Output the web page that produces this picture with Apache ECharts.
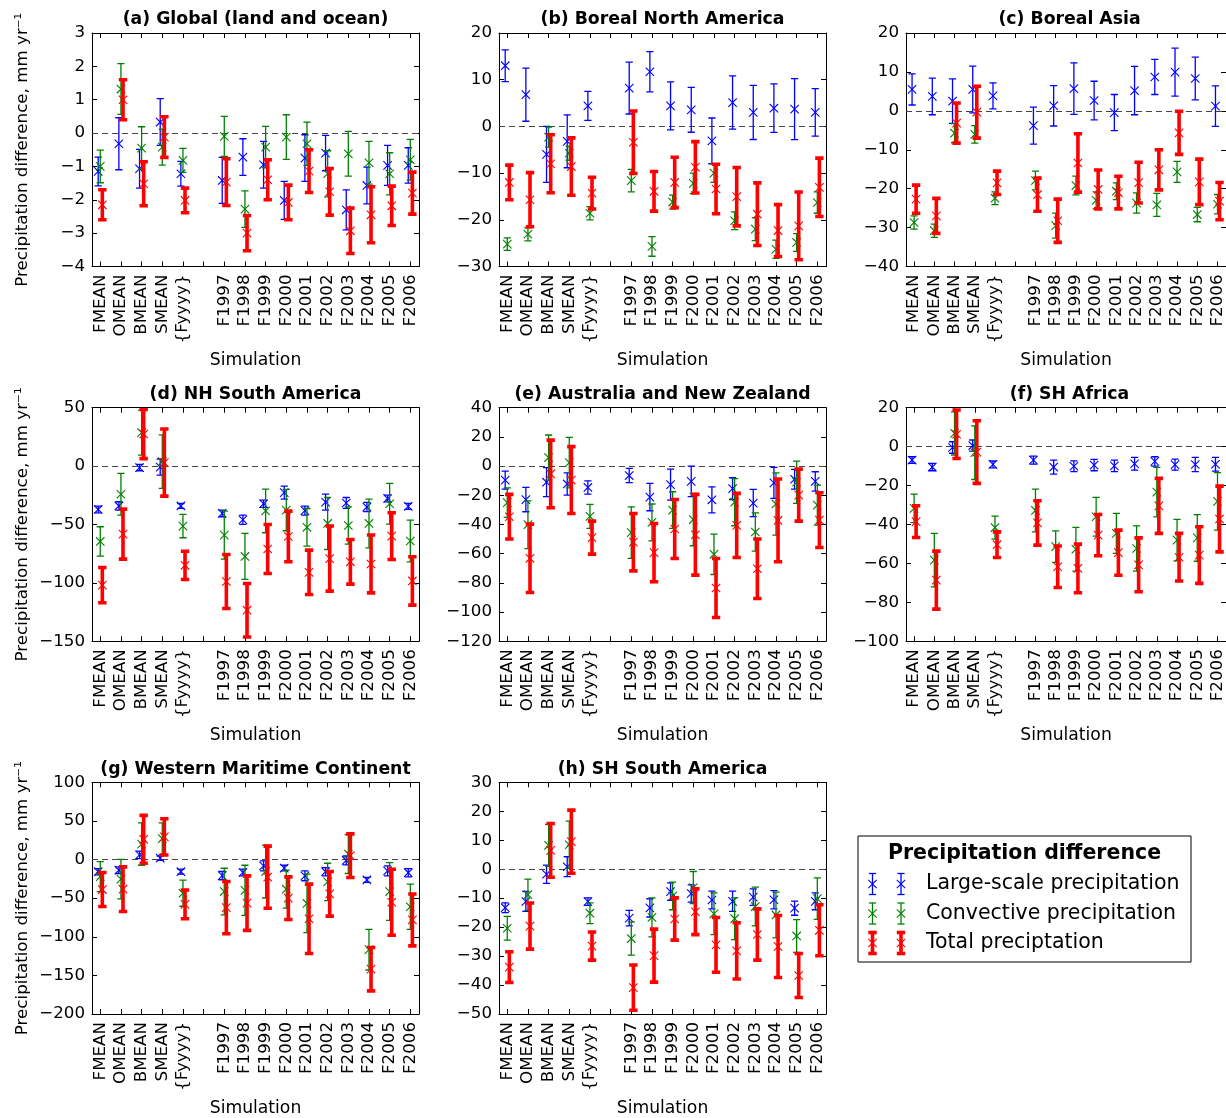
<!DOCTYPE html>
<html>
<head>
<meta charset="utf-8">
<script src="https://cdn.jsdelivr.net/npm/echarts@6/dist/echarts.min.js"></script>
<style>
html,body{margin:0;padding:0;background:#fff;}
#chart{width:1226px;height:1118px;}
</style>
</head>
<body>
<div id="chart"></div>
<script>
// ---------------- DATA ----------------
const categories = ['FMEAN','OMEAN','BMEAN','SMEAN','{Fyyyy}','F1997','F1998','F1999','F2000','F2001','F2002','F2003','F2004','F2005','F2006'];
const seriesNames = ['Large-scale precipitation','Convective precipitation','Total preciptation'];
const legendTitle = 'Precipitation difference';
const titles = ['(a) Global (land and ocean)','(b) Boreal North America','(c) Boreal Asia','(d) NH South America','(e) Australia and New Zealand','(f) SH Africa','(g) Western Maritime Continent','(h) SH South America'];
const yMins = [-4, -30, -40, -150, -120, -100, -200, -50];
const yMaxs = [3, 20, 20, 50, 40, 20, 100, 30];
const ySteps = [1, 10, 10, 50, 20, 20, 50, 10];

// (a)
const aLs = [-1.15,-0.32,-1.07,0.33,-1.22,-1.42,-0.72,-0.95,-2.02,-0.75,-0.6,-2.3,-1.57,-0.97,-0.97];
const aLsErr = [0.43,0.78,0.58,0.7,0.37,0.69,0.55,0.7,0.57,0.7,0.53,0.6,0.55,0.6,0.53];
const aCv = [-1.0,1.32,-0.45,-0.42,-0.82,-0.1,-2.28,-0.42,-0.12,-0.32,-1.22,-0.62,-0.89,-1.22,-0.8];
const aCvErr = [0.49,0.76,0.64,0.54,0.36,0.6,0.55,0.62,0.67,0.65,0.69,0.67,0.64,0.63,0.61];
const aTot = [-2.15,1.0,-1.52,-0.12,-2.02,-1.47,-3.0,-1.4,-2.08,-1.14,-1.76,-2.93,-2.45,-2.18,-1.8];
const aTotErr = [0.45,0.6,0.66,0.61,0.37,0.7,0.53,0.6,0.52,0.64,0.7,0.68,0.84,0.59,0.63];
// (b)
const bLs = [13.0,6.8,-6.0,-3.2,4.4,8.2,11.7,4.4,3.55,-3.1,5.1,3.0,3.9,3.7,3.0];
const bLsErr = [3.4,5.7,6.0,5.65,3.1,5.55,4.3,5.15,4.8,4.9,5.7,5.8,5.2,6.55,5.1];
const bCv = [-25.2,-23.1,-2.3,-5.75,-18.6,-11.6,-25.7,-16.2,-12.2,-10.0,-20.2,-22.0,-26.3,-24.85,-16.3];
const bCvErr = [1.35,1.4,2.15,1.5,1.4,2.4,2.1,1.5,2.2,2.0,1.9,2.45,1.95,1.9,2.3];
const bTot = [-12.0,-15.7,-8.0,-8.6,-14.3,-3.4,-13.9,-12.0,-8.75,-13.4,-15.05,-18.8,-22.3,-21.3,-13.05];
const bTotErr = [3.7,5.8,6.2,6.15,3.4,6.7,4.25,5.4,5.5,5.3,6.25,6.7,5.55,7.25,6.25];
// (c)
const cLs = [5.5,3.7,2.5,5.5,3.85,-3.8,1.3,5.7,2.65,-0.45,5.2,8.7,9.95,8.3,1.2];
const cLsErr = [4.0,4.7,5.7,6.0,3.35,4.75,5.2,6.6,4.95,4.65,6.2,4.5,6.15,5.5,5.2];
const cCv = [-28.7,-30.8,-5.75,-6.05,-22.45,-17.9,-29.5,-19.2,-23.0,-20.65,-23.7,-24.15,-15.7,-26.65,-24.0];
const cCvErr = [1.7,1.7,2.45,2.25,1.65,2.4,3.2,2.4,2.2,2.15,2.6,2.95,2.7,1.85,2.5];
const cTot = [-22.7,-27.0,-3.15,-0.35,-18.5,-21.55,-28.25,-13.4,-20.2,-21.0,-18.45,-15.15,-5.65,-18.25,-23.2];
const cTotErr = [3.6,4.5,5.15,6.65,3.0,4.25,5.55,7.5,5.0,4.2,5.25,5.15,5.55,5.85,4.8];
// (d)
const dLs = [-37.15,-34.15,-1.3,-0.85,-34.15,-40.55,-46,-32.25,-22.7,-38.15,-30.85,-31.6,-35.1,-27.75,-34.55];
const dLsErr = [2.9,3.6,2.7,6.9,2.1,2.85,4,3.15,5.6,3.85,6.85,4.7,4,2.85,2.6];
const dCv = [-64.55,-24.15,28.7,3.75,-51.4,-59.15,-77.4,-38.4,-37.7,-52.45,-49.15,-50.9,-49.15,-32.3,-64.15];
const dCvErr = [12.6,17.9,19.3,22.9,10,20.55,19.7,18.7,17.7,16.1,22.3,16,20.85,17.4,17.85];
const dTot = [-102,-58.3,27.45,3.0,-85,-98.85,-123.45,-71,-60.3,-91,-79.25,-82,-83.85,-60,-98.4];
const dTotErr = [15.1,21.4,21.1,28.7,12.1,23.1,22.9,21,21.7,19,27.9,19.1,24.75,20,20.7];
// (e)
const eLs = [-9.6,-22.95,-11.05,-12.25,-14.65,-6.5,-21.25,-12.7,-10.5,-23.1,-15.45,-25.35,-11.55,-9.05,-10.5];
const eLsErr = [6.2,8.35,9.95,7.65,4.55,4.9,9.35,10.6,10.5,8.9,7.45,9.35,10.65,6.75,6.6];
const eCv = [-25.05,-40.15,5.85,2.4,-34.5,-45.6,-38.6,-30.15,-36.65,-60.45,-24.75,-45.15,-25.95,-11.1,-26.75];
const eCvErr = [10.15,16.35,15.45,17.3,8.2,17.7,12.6,12.55,17.95,13.85,16.15,13.15,21.35,14.5,13.75];
const eTot = [-34.7,-63.2,-5.4,-9.6,-49,-52.15,-59.3,-43.1,-47.05,-83.55,-40.65,-70.35,-37.25,-19.9,-37.05];
const eTotErr = [15.3,23.4,23.2,22.9,11.3,19.65,20,20.2,27.65,20.25,21.95,20.35,28.35,17.8,18.75];
// (f)
const fLs = [-6.9,-10.5,-0.45,0.55,-9.15,-6.95,-10.5,-10.1,-9.5,-9.9,-8.8,-7.6,-9.25,-9.2,-9.05];
const fLsErr = [1.7,1.9,2.95,2.85,1.75,2.05,3.6,2.8,2.9,3.0,3.3,2.4,2.85,3.7,3.55];
const fCv = [-31.75,-58.35,6.8,-3.1,-41.6,-32.8,-51.4,-52.75,-36.05,-44.6,-52.35,-23.4,-48.05,-46.9,-28.15];
const fCvErr = [7.35,13.75,11.1,13.8,5.9,11,8.1,11.25,9.95,10.3,11.65,12.7,10.65,12,14.75];
const fTot = [-38.55,-68.6,6.35,-2.8,-50.4,-39.2,-61.75,-62.6,-45.5,-54.5,-60.75,-30.45,-56.85,-55.75,-37.2];
const fTotErr = [8.15,14.9,12.45,16.1,6.6,11.4,10.65,12.5,10.6,11.6,13.85,14.15,12.25,14.55,16.9];
// (g)
const gLs = [-15.75,-13.8,6.1,1.8,-15.75,-20.85,-16.8,-8.2,-11.05,-21.1,-15.75,-1.2,-26.45,-14.7,-17.05];
const gLsErr = [4,4.3,4.9,2.8,3.25,5.35,4.3,6.5,3.65,6.4,5.35,5.8,3.25,6.4,5.35];
const gCv = [-22.15,-25.35,20,27.05,-43.6,-41.45,-39.9,-15.55,-38.4,-56.85,-29,7.15,-116.7,-41.45,-61.1];
const gCvErr = [19.5,25.6,27.4,20.35,16.9,30.15,32.5,34.25,24.6,37.85,24.2,25.25,26.3,37.45,29.3];
const gTot = [-38.85,-38.4,26.2,29.4,-58.1,-62.2,-56.4,-22.8,-50,-76.7,-44.4,5,-141.95,-55.3,-78.2];
const gTotErr = [22,28.9,31,23.5,18.6,33.8,35.3,40.2,27.6,44.9,28.9,28.2,28.05,42.8,33.6];
// (h)
const hLs = [-13.3,-11.15,-1.75,0.85,-11.2,-16.9,-13.35,-7.75,-8.4,-10.65,-11.1,-9.65,-10.55,-13.45,-11.1];
const hLsErr = [1.7,3.45,3.15,3.45,1.3,2.7,3.15,3.05,3.0,3.05,3.5,2.85,3.15,2.45,2.9];
const hCv = [-20.4,-8.8,8.25,8.45,-15.2,-23.95,-16.65,-9.25,-6.35,-15.4,-17.1,-12.9,-15.8,-23.05,-10.15];
const hCvErr = [4.1,5.4,7.25,8.15,3.6,5.75,6.75,4.75,5.55,7.2,7.2,6.7,7.9,5.65,7.15];
const hTot = [-33.8,-19.65,6.5,9.5,-26.55,-40.9,-29.85,-17.2,-14.7,-26.15,-28.2,-22.55,-26.7,-36.7,-21.1];
const hTotErr = [5.3,7.95,9.3,10.9,4.85,7.8,9.15,7.3,7.9,9.45,9.7,8.85,10.7,7.6,8.8];

const panelData = [
  [aLs,aLsErr,aCv,aCvErr,aTot,aTotErr],
  [bLs,bLsErr,bCv,bCvErr,bTot,bTotErr],
  [cLs,cLsErr,cCv,cCvErr,cTot,cTotErr],
  [dLs,dLsErr,dCv,dCvErr,dTot,dTotErr],
  [eLs,eLsErr,eCv,eCvErr,eTot,eTotErr],
  [fLs,fLsErr,fCv,fCvErr,fTot,fTotErr],
  [gLs,gLsErr,gCv,gCvErr,gTot,gTotErr],
  [hLs,hLsErr,hCv,hCvErr,hTot,hTotErr]
];

// ---------------- LAYOUT / STYLE ----------------
const FONT = 'DejaVu Sans';
const FS = 16.7;
const colors = ['#0000ff', '#008000', '#ff0000'];
const offsets = [-0.1, 0, 0.1];
const labelPos = categories.map((c, i) => i < 5 ? i : i + 1);
const tickPos = [];
for (let i = 0; i <= 15; i++) tickPos.push(i);
const colLeft = [92, 499, 906];
const rowTop = [33, 407.7, 782.3];
const GW = 327, GH = 233.5;
const XMIN = -0.4, XMAX = 15.42;

function fmtNum(v) {
  return v < 0 ? '\u2212' + Math.abs(v) : String(v);
}

function errRender(color, thick) {
  return function (params, api) {
    const x = api.value(0), v = api.value(1), e = api.value(2);
    const c = api.coord([x, v]);
    const t = api.coord([x, v + e]);
    const b = api.coord([x, v - e]);
    const lw = thick ? 3.6 : 1.3;
    const cw = thick ? 4.2 : 3.6;
    const ms = 4.2;
    const st = { stroke: color, lineWidth: lw, lineCap: 'butt' };
    const ms_st = { stroke: color, lineWidth: 1.1 };
    return {
      type: 'group',
      children: [
        { type: 'line', shape: { x1: c[0], y1: t[1], x2: c[0], y2: b[1] }, style: st },
        { type: 'line', shape: { x1: c[0] - cw, y1: t[1], x2: c[0] + cw, y2: t[1] }, style: st },
        { type: 'line', shape: { x1: c[0] - cw, y1: b[1], x2: c[0] + cw, y2: b[1] }, style: st },
        { type: 'line', shape: { x1: c[0] - ms, y1: c[1] - ms, x2: c[0] + ms, y2: c[1] + ms }, style: ms_st },
        { type: 'line', shape: { x1: c[0] - ms, y1: c[1] + ms, x2: c[0] + ms, y2: c[1] - ms }, style: ms_st }
      ]
    };
  };
}

const grids = [], xAxes = [], yAxes = [], series = [], graphics = [];

panelData.forEach((pd, p) => {
  const col = p % 3, row = Math.floor(p / 3);
  const left = colLeft[col], top = rowTop[row];
  grids.push({ left: left, top: top, width: GW, height: GH, containLabel: false });
  const axLine = { show: true, onZero: false, lineStyle: { color: '#000', width: 1 } };
  xAxes.push({
    gridIndex: p, type: 'value', min: XMIN, max: XMAX, position: 'bottom',
    axisLine: axLine,
    axisTick: { show: true, inside: true, length: 5, customValues: tickPos, lineStyle: { color: '#000' } },
    axisLabel: {
      show: true, customValues: labelPos, rotate: 90, margin: 8, color: '#000',
      fontFamily: FONT, fontSize: FS,
      formatter: (v) => { const k = labelPos.indexOf(Math.round(v)); return k >= 0 ? categories[k] : ''; }
    },
    splitLine: { show: false },
    name: 'Simulation', nameLocation: 'middle', nameGap: 86,
    nameTextStyle: { fontFamily: FONT, fontSize: 17.2, color: '#000' }
  });
  xAxes.push({
    gridIndex: p, type: 'value', min: XMIN, max: XMAX, position: 'top',
    axisLine: axLine,
    axisTick: { show: true, inside: true, length: 5, customValues: tickPos, lineStyle: { color: '#000' } },
    axisLabel: { show: false }, splitLine: { show: false }
  });
  const yl = {
    gridIndex: p, type: 'value', min: yMins[p], max: yMaxs[p], interval: ySteps[p], position: 'left',
    axisLine: axLine,
    axisTick: { show: true, inside: true, length: 5, lineStyle: { color: '#000' } },
    axisLabel: { show: true, margin: 7, color: '#000', fontFamily: FONT, fontSize: FS, formatter: fmtNum },
    splitLine: { show: false }
  };
  if (col === 0) {
    yl.name = 'Precipitation difference, mm yr\u207B\u00B9';
    yl.nameLocation = 'middle';
    yl.nameGap = 61;
    yl.nameTextStyle = { fontFamily: FONT, fontSize: FS, color: '#000' };
  }
  yAxes.push(yl);
  yAxes.push({
    gridIndex: p, type: 'value', min: yMins[p], max: yMaxs[p], interval: ySteps[p], position: 'right',
    axisLine: axLine,
    axisTick: { show: true, inside: true, length: 5, lineStyle: { color: '#000' } },
    axisLabel: { show: false }, splitLine: { show: false }
  });

  for (let s = 0; s < 3; s++) {
    const vals = pd[s * 2], errs = pd[s * 2 + 1];
    const ser = {
      type: 'custom', name: seriesNames[s],
      xAxisIndex: p * 2, yAxisIndex: p * 2,
      data: vals.map((v, i) => [labelPos[i] + offsets[s], v, errs[i]]),
      encode: { x: 0, y: 1 },
      renderItem: errRender(colors[s], s === 2),
      clip: true, silent: true, z: 3 + s
    };
    if (s === 0) {
      ser.markLine = {
        silent: true, symbol: 'none', label: { show: false },
        lineStyle: { type: [6, 4], color: '#444', width: 1 },
        data: [{ yAxis: 0 }], z: 2
      };
    }
    series.push(ser);
  }

  graphics.push({
    type: 'text', x: left + GW / 2, y: top - 13,
    style: { text: titles[p], align: 'center', verticalAlign: 'middle', fontFamily: FONT, fontSize: 17.3, fontWeight: 'bold', fill: '#000' }
  });
});

// legend (graphic)
const LX = 858, LY = 836, LW = 333, LH = 126;
graphics.push({ type: 'rect', shape: { x: LX, y: LY, width: LW, height: LH }, style: { fill: '#fff', stroke: '#000', lineWidth: 1 } });
graphics.push({
  type: 'text', x: LX + LW / 2, y: LY + 18,
  style: { text: legendTitle, align: 'center', verticalAlign: 'middle', fontFamily: FONT, fontSize: 20.5, fontWeight: 'bold', fill: '#000' }
});
seriesNames.forEach((nm, k) => {
  const cy = LY + 48 + k * 29.5;
  const thick = k === 2;
  const lw = thick ? 3.6 : 1.3, cw = thick ? 4.2 : 3.6, ms = 4.2;
  [LX + 14.5, LX + 43].forEach((cx) => {
    const st = { stroke: colors[k], lineWidth: lw };
    graphics.push({ type: 'line', shape: { x1: cx, y1: cy - 10.5, x2: cx, y2: cy + 10.5 }, style: st });
    graphics.push({ type: 'line', shape: { x1: cx - cw, y1: cy - 10.5, x2: cx + cw, y2: cy - 10.5 }, style: st });
    graphics.push({ type: 'line', shape: { x1: cx - cw, y1: cy + 10.5, x2: cx + cw, y2: cy + 10.5 }, style: st });
    graphics.push({ type: 'line', shape: { x1: cx - ms, y1: cy - ms, x2: cx + ms, y2: cy + ms }, style: { stroke: colors[k], lineWidth: 1.1 } });
    graphics.push({ type: 'line', shape: { x1: cx - ms, y1: cy + ms, x2: cx + ms, y2: cy - ms }, style: { stroke: colors[k], lineWidth: 1.1 } });
  });
  graphics.push({
    type: 'text', x: LX + 68, y: cy,
    style: { text: nm, align: 'left', verticalAlign: 'middle', fontFamily: FONT, fontSize: 20.5, fill: '#000' }
  });
});

const chart = echarts.init(document.getElementById('chart'), null, { renderer: 'canvas' });
chart.setOption({
  animation: false,
  backgroundColor: '#fff',
  textStyle: { fontFamily: FONT },
  grid: grids,
  xAxis: xAxes,
  yAxis: yAxes,
  series: series,
  graphic: graphics
});
</script>
</body>
</html>
